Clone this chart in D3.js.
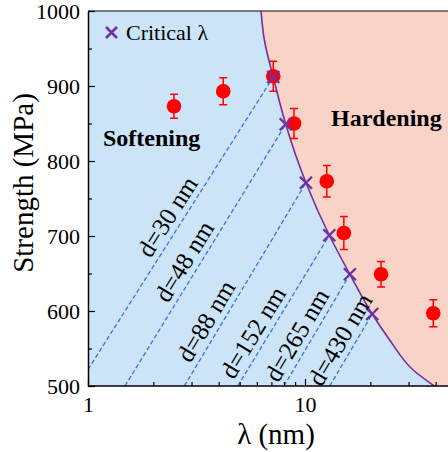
<!DOCTYPE html>
<html>
<head>
<meta charset="utf-8">
<script src="https://cdn.jsdelivr.net/npm/d3@7"></script>
<style>
  html, body { margin: 0; padding: 0; background: #fff; }
  svg { display: block; font-family: "Times New Roman", "Liberation Serif", serif; }
</style>
</head>
<body>
<svg id="chart" width="448" height="452"></svg>
<script>
// ---------- data ----------
const xMajorTicks = [1, 10];
const xMinorTicks = [2, 3, 4, 5, 6, 7, 8, 9, 20, 30, 40];
const yMajorTicks = [500, 600, 700, 800, 900, 1000];
const yMinorTicks = [550, 650, 750, 850, 950];

// measured strength (red points)
const expLambda   = [2.49, 4.20, 7.14, 8.90, 12.6, 15.1, 22.4, 39.0];
const expStrength = [873, 893, 913, 850, 773, 704, 649, 597];
const expError    = [16, 18, 20, 20, 21, 22, 17, 18];

// critical lambda (purple crosses)
const critLambda   = [7.14, 8.15, 10.1, 12.94, 16.1, 20.4];
const critStrength = [912, 849, 771, 701, 649, 596];

// boundary curve between softening and hardening
const boundaryLambda   = [6.27, 6.5, 7.14, 8.15, 10.1, 12.94, 16.1, 20.4, 24.6, 31.6, 39.4];
const boundaryStrength = [1000, 961, 912, 849, 771, 701, 649, 596, 561, 521, 500];

// dashed grain-size lines (start point -> critical point)
const dLabels       = ["d=30 nm", "d=48 nm", "d=88 nm", "d=152 nm", "d=265 nm", "d=430 nm"];
const dStartLambda  = [1, 1.48, 2.78, 4.90, 8.0, 13.0];
const dStartStrength= [522, 500, 500, 500, 500, 500];
const dLabelLambda  = [2.65, 3.17, 4.0, 6.59, 10.5, 16.6];

// ---------- layout ----------
const svg = d3.select("#chart");
const W = 448, H = 452;
const plotL = 88, plotT = 11, plotB = 386, plotR = 448;

const x = d3.scaleLog().domain([1, 10]).range([plotL, 305]);
const y = d3.scaleLinear().domain([500, 1000]).range([plotB, plotT]);
const xMaxVal = x.invert(plotR + 2);

const colBlue = "#cbe4f8";
const colPink = "#f9d3c8";
const colPurple = "#7030a0";
const colRed = "#ff0000";
const colDash = "#3d72d6";

svg.append("defs").append("clipPath").attr("id", "plotclip")
  .append("rect").attr("x", plotL).attr("y", plotT)
  .attr("width", plotR - plotL + 10).attr("height", plotB - plotT);

const plot = svg.append("g").attr("clip-path", "url(#plotclip)");

const boundary = boundaryLambda.map((l, i) => ({ l, s: boundaryStrength[i] }));

// regions
plot.append("path")
  .datum(boundary)
  .attr("fill", colBlue)
  .attr("d", d3.area().curve(d3.curveMonotoneY)
    .y(d => y(d.s)).x0(x(1)).x1(d => x(d.l)));
plot.append("path")
  .datum(boundary)
  .attr("fill", colPink)
  .attr("d", d3.area().curve(d3.curveMonotoneY)
    .y(d => y(d.s)).x0(d => x(d.l)).x1(x(xMaxVal) + 10));

// dashed lines
const dLines = dLabels.map((lab, i) => ({
  lab,
  x1: x(dStartLambda[i]), y1: y(dStartStrength[i]),
  x2: x(critLambda[i]), y2: y(critStrength[i]),
  ll: dLabelLambda[i]
}));
plot.selectAll("line.dash").data(dLines).join("line")
  .attr("class", "dash")
  .attr("x1", d => d.x1).attr("y1", d => d.y1)
  .attr("x2", d => d.x2).attr("y2", d => d.y2)
  .attr("stroke", colDash).attr("stroke-width", 1.3)
  .attr("stroke-dasharray", "4.5,2.5");

// boundary curve
plot.append("path")
  .datum(boundary)
  .attr("fill", "none").attr("stroke", colPurple).attr("stroke-width", 1.6)
  .attr("d", d3.line().curve(d3.curveMonotoneY).x(d => x(d.l)).y(d => y(d.s)));

// labels along dashed lines
dLines.forEach(d => {
  const dx = d.x2 - d.x1, dy = d.y2 - d.y1;
  const len = Math.hypot(dx, dy);
  const ux = dx / len, uy = dy / len;
  const px = x(d.ll);
  const t = (px - d.x1) / dx;
  const py = d.y1 + t * dy;
  const nx = uy, ny = -ux;
  const off = 15;
  const cx = px + nx * off, cy = py + ny * off;
  const ang = Math.atan2(dy, dx) * 180 / Math.PI;
  svg.append("text")
    .attr("transform", `translate(${cx},${cy}) rotate(${ang})`)
    .attr("text-anchor", "middle").attr("dy", "0.35em")
    .attr("font-size", 25).attr("fill", "#000")
    .text(d.lab);
});

// experimental points with error bars
const exp = expLambda.map((l, i) => ({ l, s: expStrength[i], e: expError[i] }));
const eg = plot.append("g");
eg.selectAll("line.eb").data(exp).join("line")
  .attr("x1", d => x(d.l)).attr("x2", d => x(d.l))
  .attr("y1", d => y(d.s + d.e)).attr("y2", d => y(d.s - d.e))
  .attr("stroke", colRed).attr("stroke-width", 1.5);
eg.selectAll("line.capt").data(exp).join("line")
  .attr("x1", d => x(d.l) - 4).attr("x2", d => x(d.l) + 4)
  .attr("y1", d => y(d.s + d.e)).attr("y2", d => y(d.s + d.e))
  .attr("stroke", colRed).attr("stroke-width", 1.5);
eg.selectAll("line.capb").data(exp).join("line")
  .attr("x1", d => x(d.l) - 4).attr("x2", d => x(d.l) + 4)
  .attr("y1", d => y(d.s - d.e)).attr("y2", d => y(d.s - d.e))
  .attr("stroke", colRed).attr("stroke-width", 1.5);
eg.selectAll("circle").data(exp).join("circle")
  .attr("cx", d => x(d.l)).attr("cy", d => y(d.s)).attr("r", 7.3)
  .attr("fill", colRed);

// crosses
const crossPath = (cx, cy, r) => `M${cx - r},${cy - r}L${cx + r},${cy + r}M${cx - r},${cy + r}L${cx + r},${cy - r}`;
const crit = critLambda.map((l, i) => ({ l, s: critStrength[i] }));
plot.selectAll("path.cross").data(crit).join("path")
  .attr("class", "cross")
  .attr("d", d => crossPath(x(d.l), y(d.s), 6))
  .attr("stroke", colPurple).attr("stroke-width", 2.4).attr("fill", "none");

// frame
svg.append("line").attr("x1", plotL).attr("x2", plotR).attr("y1", plotT).attr("y2", plotT)
  .attr("stroke", "#555").attr("stroke-width", 1.5);

// axes
const xAxis = svg.append("g").attr("transform", `translate(0,${plotB})`)
  .call(d3.axisBottom(x).tickValues(xMajorTicks).tickFormat(d3.format("d"))
    .tickSizeInner(-7).tickSizeOuter(0).tickPadding(10));
const xMinor = svg.append("g").attr("transform", `translate(0,${plotB})`)
  .call(d3.axisBottom(x).tickValues(xMinorTicks).tickFormat("")
    .tickSizeInner(-4).tickSizeOuter(0));
const yAxis = svg.append("g").attr("transform", `translate(${plotL},0)`)
  .call(d3.axisLeft(y).tickValues(yMajorTicks).tickFormat(d3.format("d"))
    .tickSizeInner(-7).tickSizeOuter(0).tickPadding(8));
const yMinor = svg.append("g").attr("transform", `translate(${plotL},0)`)
  .call(d3.axisLeft(y).tickValues(yMinorTicks).tickFormat("")
    .tickSizeInner(-4).tickSizeOuter(0));

[xAxis, xMinor, yAxis, yMinor].forEach(g => {
  g.selectAll(".domain").attr("stroke", "#000").attr("stroke-width", 1.5);
  g.selectAll(".tick line").attr("stroke", "#000").attr("stroke-width", 1.2);
  g.selectAll("text").attr("font-size", 22).attr("fill", "#000")
    .attr("font-family", "'Times New Roman', 'Liberation Serif', serif");
});
xAxis.select(".domain").attr("d", `M${plotL},0H${plotR + 5}`);
xMinor.select(".domain").remove();
yMinor.select(".domain").remove();

// axis titles
svg.append("text").attr("x", 276).attr("y", 444).attr("text-anchor", "middle")
  .attr("font-size", 29).text("λ (nm)");
svg.append("text").attr("transform", `translate(33,183) rotate(-90)`)
  .attr("text-anchor", "middle").attr("font-size", 29).text("Strength (MPa)");

// region labels
svg.append("text").attr("x", 103).attr("y", 146).attr("font-size", 24)
  .attr("font-weight", "bold").text("Softening");
svg.append("text").attr("x", 331).attr("y", 126).attr("font-size", 24)
  .attr("font-weight", "bold").text("Hardening");

// legend
svg.append("path").attr("d", crossPath(111.5, 32.5, 5.5))
  .attr("stroke", colPurple).attr("stroke-width", 2.6).attr("fill", "none");
svg.append("text").attr("x", 126).attr("y", 40).attr("font-size", 22)
  .text("Critical λ");
</script>
</body>
</html>
